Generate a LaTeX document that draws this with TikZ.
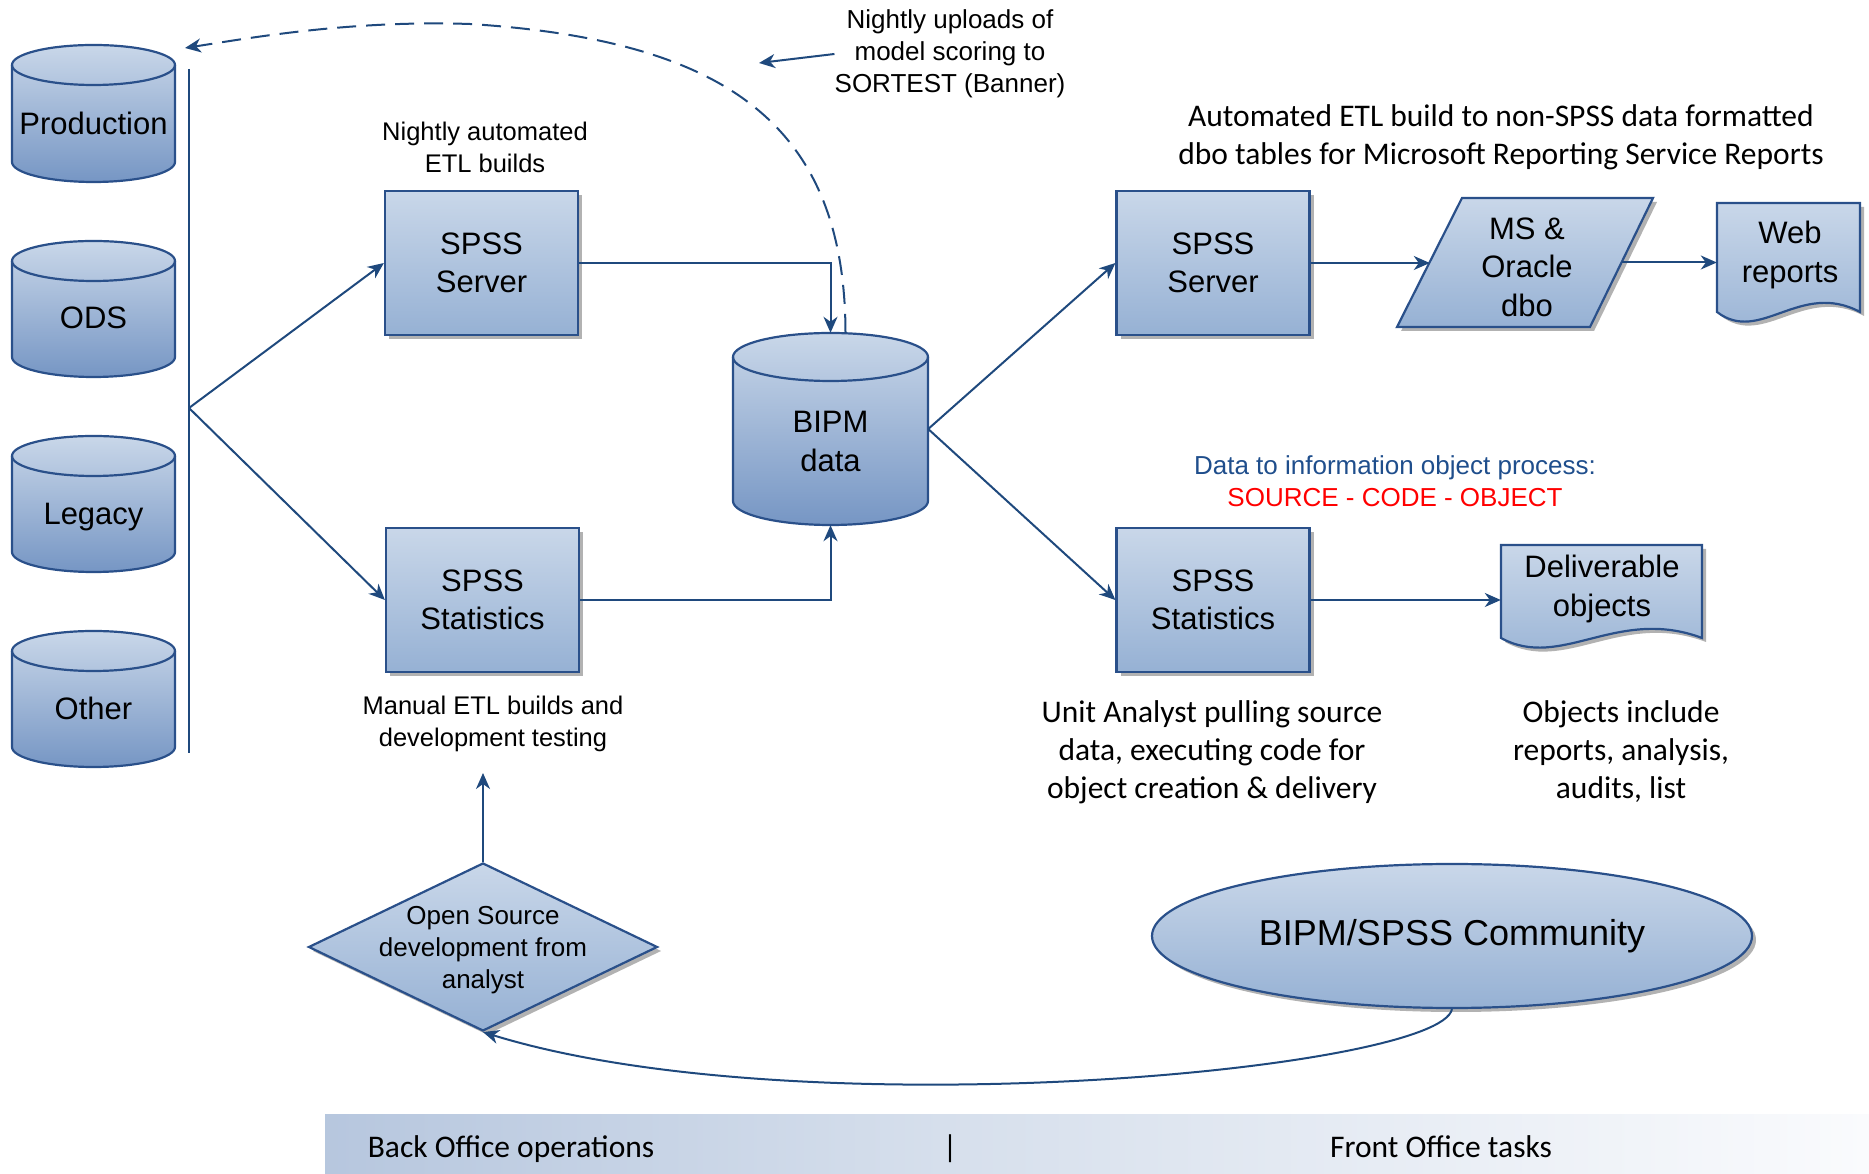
\documentclass[tikz,border=0pt]{standalone}
\usepackage{fontspec}
\setmainfont{Liberation Sans}
\newfontfamily\cali{Carlito}
\usetikzlibrary{arrows.meta,shapes.geometric,shadows,calc}
\definecolor{bdr}{RGB}{42,80,138}
\definecolor{arrc}{RGB}{31,73,125}
\definecolor{fillT}{RGB}{201,215,233}
\definecolor{fillB}{RGB}{150,177,212}
\definecolor{cylB}{RGB}{118,150,196}
\definecolor{bandL}{RGB}{143,168,205}
\definecolor{bandM}{RGB}{214,223,236}
\definecolor{bandR}{RGB}{250,251,253}
\definecolor{blueTxt}{RGB}{31,78,140}
\pgfdeclarehorizontalshading{bandsh}{100bp}{color(0bp)=(bandL); color(45bp)=(bandM); color(75bp)=(bandR); color(100bp)=(white)}
\newcommand\bigsans{\fontsize{31}{38.5}\selectfont}
\newcommand\midsans{\fontsize{25.5}{32}\selectfont}
\newcommand\calitxt{\cali\fontsize{31.5}{38}\selectfont}
\newcommand\dbcyl[5]{%
 \pgfmathsetmacro\cyT{1173-#2-#5}%
 \pgfmathsetmacro\cyB{1173-#3+#5}%
 \draw[cyl] ({#1-#4},\cyT) -- ({#1-#4},\cyB) arc[start angle=180,end angle=360,x radius=#4,y radius=#5] -- ({#1+#4},\cyT) arc[start angle=0,end angle=180,x radius=#4,y radius=#5] -- cycle;
 \draw[cylrim] ({#1-#4},\cyT) arc[start angle=180,end angle=360,x radius=#4,y radius=#5];
}
\begin{document}
\begin{tikzpicture}[x=1pt,y=1pt,
  shad/.style={drop shadow={shadow xshift=4pt,shadow yshift=-4pt,opacity=0.3,fill=black}},
  flow/.style={draw=bdr,line width=2.2pt,top color=fillT,bottom color=fillB,shad},
  boxnode/.style={flow,rectangle,minimum width=193pt,minimum height=144pt,inner sep=0pt,align=center,font=\bigsans},
  cyl/.style={draw=bdr,line width=2.2pt,top color=fillT,bottom color=cylB},
  cylrim/.style={draw=bdr,line width=2.2pt},
  anchorbox/.style={rectangle,inner sep=0pt},
  lbl/.style={align=center,font=\bigsans,inner sep=0pt},
  note/.style={align=center,font=\midsans,inner sep=0pt},
  cnote/.style={align=center,font=\calitxt,inner sep=0pt},
  arr/.style={draw=arrc,line width=2pt,-{Stealth[length=16pt,width=14pt,inset=5pt]}},
  plain/.style={draw=arrc,line width=2pt}
]
\useasboundingbox (0,0) rectangle (1869,1173);
% bottom band
\path[shading=bandsh] (325,0) rectangle (1869,59);
\node[cnote,anchor=base] (back) at (511,16) {Back Office operations};
\node[cnote,anchor=base] (sep) at (950,16) {|};
\node[cnote,anchor=base] (front) at (1441,16) {Front Office tasks};

% source cylinders
\dbcyl{93.5}{45}{182}{81.5}{20}
\dbcyl{93.5}{241}{377}{81.5}{20}
\dbcyl{93.5}{436}{572}{81.5}{20}
\dbcyl{93.5}{631}{767}{81.5}{20}
\node[lbl] (prod) at (93.5,1050) {Production};
\node[lbl] (ods) at (93.5,855) {ODS};
\node[lbl] (legacy) at (93.5,655.5) {Legacy};
\node[lbl] (other) at (93.5,465) {Other};

\coordinate (vtop) at (189,1104);
\coordinate (vbot) at (189,420);
\coordinate (branch) at (189,765);
\draw[plain] (vtop) -- (vbot);

% BIPM cylinder
\dbcyl{830.5}{333}{525}{97.5}{24}
\node[anchorbox,minimum width=195pt,minimum height=192pt] (bipm) at (830.5,744) {};
\node[lbl] (bipmtxt) at (830.5,731.5) {BIPM\\data};

% boxes
\node[boxnode] (srv1) at (481.5,910) {SPSS\\Server};
\node[boxnode] (stat1) at (482.5,573) {SPSS\\Statistics};
\node[boxnode] (srv2) at (1213,910) {SPSS\\Server};
\node[boxnode] (stat2) at (1213,573) {SPSS\\Statistics};

% parallelogram
\draw[flow] (1462,975) -- (1653,975) -- (1590,846) -- (1397,846) -- cycle;
\node[anchorbox,minimum width=192pt,minimum height=129pt] (msdbo) at (1526,910.5) {};
\node[lbl] (msdbotxt) at (1527,906) {MS \&\\Oracle\\dbo};

% web reports document
\draw[flow] (1717,970) -- (1860,970) -- (1860,861) .. controls (1800,893) and (1760,828) .. (1717,861) -- cycle;
\node[anchorbox,minimum width=143pt,minimum height=109pt] (web) at (1788.5,915.5) {};
\node[lbl] (webtxt) at (1790,918) {Web\\reports};

% deliverable document
\draw[flow] (1501,628) -- (1702,628) -- (1702,535) .. controls (1617,567) and (1561,502) .. (1501,535) -- cycle;
\node[anchorbox,minimum width=201pt,minimum height=93pt] (deliv) at (1601.5,581.5) {};
\node[lbl] (delivtxt) at (1602,584) {Deliverable\\objects};

% diamond
\node[flow,diamond,minimum width=349pt,minimum height=168pt,inner sep=0pt] (osd) at (483,226) {};
\node[note,font=\fontsize{26}{32}\selectfont] (osdtxt) at (483,222.5) {Open Source\\development from\\analyst};
\coordinate (osdup) at (483,400);

% community ellipse
\node[flow,ellipse,minimum width=600pt,minimum height=144pt,inner sep=0pt,font=\fontsize{36}{40}\selectfont] (comm) at (1452,237) {BIPM/SPSS Community};

% labels
\node[note] (nightly) at (485,1026) {Nightly automated\\ETL builds};
\node[note] (manual) at (493,449) {Manual ETL builds and\\development testing};
\node[note,font=\fontsize{26}{32}\selectfont] (upl) at (950,1119) {Nightly uploads of\\model scoring to\\SORTEST (Banner)};
\coordinate (uparr) at (759,1110);
\coordinate (dashend) at (185,1125);
\node[note,font=\fontsize{26}{32}\selectfont] (proc) at (1395,692) {\textcolor{blueTxt}{Data to information object process:}\\\textcolor{red}{SOURCE - CODE - OBJECT}};
\node[cnote] (etl) at (1501,1036) {Automated ETL build to non-SPSS data formatted\\dbo tables for Microsoft Reporting Service Reports};
\node[cnote] (unit) at (1212,421) {Unit Analyst pulling source\\data, executing code for\\object creation \& delivery};
\node[cnote] (objinc) at (1621,421) {Objects include\\reports, analysis,\\audits, list};

% connectors
\draw[arr] (branch) -- (srv1.west);
\draw[arr] (branch) -- (stat1.west);
\draw[arr] (srv1.east) -| (bipm.north);
\draw[arr] (stat1.east) -| (bipm.south);
\draw[arr] (bipm.east) -- (srv2.west);
\draw[arr] (bipm.east) -- (stat2.west);
\draw[arr] (srv2.east) -- (srv2.east -| msdbo.west);
\draw[arr] (msdbo.east) -- (msdbo.east -| web.west);
\draw[arr] (stat2.east) -- (stat2.east -| deliv.west);
\draw[arr] (osd.north) -- (osdup);
\draw[arr] (comm.south) .. controls (1440,103) and (800,43) .. (osd.south);
\draw[arr,dash pattern=on 19pt off 10pt] ([xshift=15pt]bipm.north) .. controls (845,1053) and (720,1133) .. (470,1149) .. controls (350,1153) and (250,1135) .. (dashend);
\draw[arr] (upl.west) -- (uparr);
\end{tikzpicture}
\end{document}
